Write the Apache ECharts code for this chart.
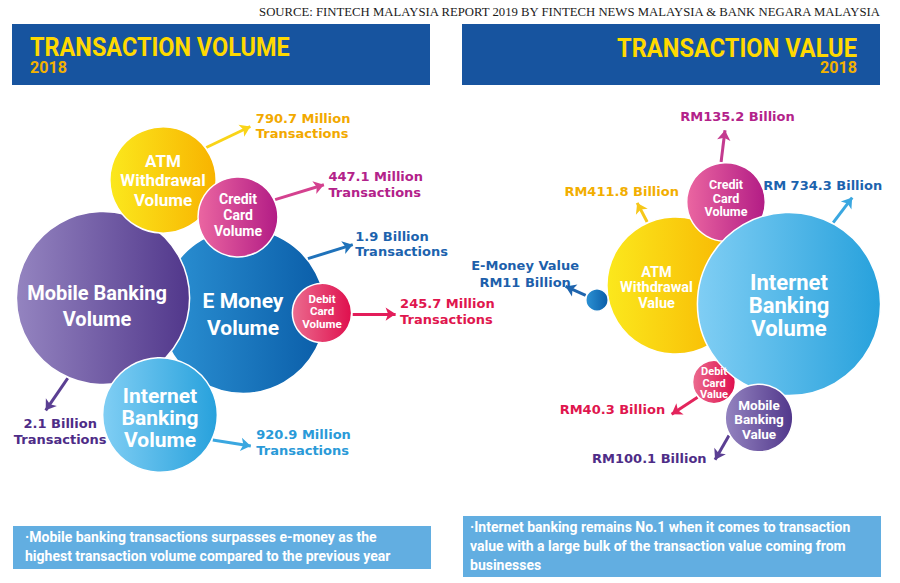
<!DOCTYPE html>
<html><head><meta charset="utf-8">
<script src="https://cdn.jsdelivr.net/npm/echarts@6/dist/echarts.min.js"></script>
<style>html,body{margin:0;padding:0;background:#fff}#c{width:900px;height:583px}</style>
</head><body><div id="c"></div>
<script>
// ---------------- DATA ----------------
// Transaction volume 2018 (million transactions), drawn bottom -> top
const volCategories = ['E Money Volume','Mobile Banking Volume','Internet Banking Volume','ATM Withdrawal Volume','Credit Card Volume','Debit Card Volume'];
const volBubbleText = ['E Money\nVolume','Mobile Banking\nVolume','Internet\nBanking\nVolume','ATM\nWithdrawal\nVolume','Credit\nCard\nVolume','Debit\nCard\nVolume'];
const volValues = [1900, 2100, 920.9, 790.7, 447.1, 245.7];
const volValueLabels = ['1.9 Billion\nTransactions','2.1 Billion\nTransactions','920.9 Million\nTransactions','790.7 Million\nTransactions','447.1 Million\nTransactions','245.7 Million\nTransactions'];

// Transaction value 2018 (RM billion), drawn bottom -> top
const valCategories = ['ATM Withdrawal Value','Credit Card Value','Debit Card Value','Internet Banking Value','Mobile Banking Value','E-Money Value'];
const valBubbleText = ['ATM\nWithdrawal\nValue','Credit\nCard\nVolume','Debit\nCard\nValue','Internet\nBanking\nVolume','Mobile\nBanking\nValue',''];
const valValues = [411.8, 135.2, 40.3, 734.3, 100.1, 11];
const valValueLabels = ['RM411.8 Billion','RM135.2 Billion','RM40.3 Billion','RM 734.3 Billion','RM100.1 Billion','E-Money Value\nRM11 Billion'];

const sourceText = 'SOURCE: FINTECH MALAYSIA REPORT 2019 BY FINTECH NEWS MALAYSIA & BANK NEGARA MALAYSIA';
const titles = ['TRANSACTION VOLUME', 'TRANSACTION VALUE'];
const yearText = '2018';
const notes = [
  ['\u00b7Mobile banking transactions surpasses e-money as the', 'highest transaction volume compared to the previous year'],
  ['\u00b7Internet banking remains No.1 when it comes to transaction', 'value with a large bulk of the transaction value coming from', 'businesses']
];

// ---------------- LAYOUT / STYLE ----------------
const volLayout = {
  centers: [[243,311],[103,298],[160,415],[163,180],[238,217],[322,313]],
  k: 1.89,
  grad: [['#2c92d4','#0a5da8'],['#9484c0','#51378b'],['#80cef4','#27a1dc'],['#fbe81d','#f8b300'],['#eb66a1','#b21c85'],['#eb6b8f','#df0f4d']],
  font: [21,20,21,17,14,11.5],
  lineH: [27,26,22,19.5,16,12.5],
  textOff: [[0,3],[-6,8],[0,3],[0,0],[0,-2],[0,-2]],
  arrows: [[-38.9,-17.3,47],[113.7,124.5,39],[25.3,9,38.5],[-36.9,-25.5,48.8],[-25,-17,51],[2,0,43]],
  arrowColor: ['#1f72ba','#5b3f93','#3aa7e0','#f9d418','#d4418f','#e31d5a'],
  labelColor: ['#1c63ae','#4e2c87','#2a9ad8','#f2a900','#b3228a','#e0164e'],
  labelPos: [[3,0,'left','middle'],[15,6,'center','top'],[6,-3,'left','middle'],[6,0,'left','middle'],[5,0,'left','middle'],[5,-2,'left','middle']],
  labelLineH: 15.5
};
const valLayout = {
  centers: [[675.5,285.5],[726,202],[714,382],[789,304],[759,418],[597,300]],
  k: 3.38,
  grad: [['#fbe81d','#f8b300'],['#eb66a1','#b21c85'],['#eb6b8f','#df0f4d'],['#80cef4','#27a1dc'],['#9484c0','#51378b'],['#2c92d4','#0a5da8']],
  font: [14.5,12.5,11,22,13.5,10],
  lineH: [15.5,13.5,11.5,23,14.5,11],
  textOff: [[-19,2],[0,-4],[0,1],[0,1],[0,1],[0,0]],
  arrows: [[-114,-117.8,21.5],[-97,-83,32],[137,146.8,31],[-61.5,-52.8,31.4],[149.6,120,27.8],[-158,-155.8,22]],
  arrowColor: ['#f6c719','#c43a8f','#e3245c','#3aa7e0','#5b3f93','#1e64ad'],
  labelColor: ['#f2ae00','#b3228a','#e0164e','#1c63ae','#4e2c87','#1d5fab'],
  labelPos: [[-15,-11,'center','middle'],[13,-13,'center','middle'],[-6,-4,'right','middle'],[-29,-12,'center','middle'],[-8,-1,'right','middle'],[-40,-11.5,'center','middle']],
  labelLineH: 17
};

const FONT = 'Roboto, "Open Sans", sans-serif';
const LABEL_FONT = '"DejaVu Sans", Roboto, sans-serif';
const rad = d => d * Math.PI / 180;

function buildPanel(cats, texts, values, labels, L) {
  const bubbles = [], lines = [], tags = [];
  values.forEach((v, i) => {
    const c = L.centers[i];
    const r = L.k * Math.sqrt(v);
    bubbles.push({
      name: cats[i],
      value: [c[0], c[1], v],
      symbolSize: 2 * r,
      itemStyle: {
        opacity: 1,
        color: new echarts.graphic.LinearGradient(0, 0, 1, 0, [
          {offset: 0, color: L.grad[i][0]}, {offset: 1, color: L.grad[i][1]}
        ]),
        borderColor: '#ffffff', borderWidth: 1.5
      },
      label: {
        show: texts[i] !== '', position: 'inside', formatter: texts[i],
        color: '#ffffff', fontFamily: FONT, fontWeight: 'bold',
        fontSize: L.font[i], lineHeight: L.lineH[i], offset: L.textOff[i]
      }
    });
    const a = L.arrows[i];
    const s = [c[0] + (r + 1) * Math.cos(rad(a[0])), c[1] + (r + 1) * Math.sin(rad(a[0]))];
    const e = [s[0] + a[2] * Math.cos(rad(a[1])), s[1] + a[2] * Math.sin(rad(a[1]))];
    lines.push({ coords: [s, e], lineStyle: { color: L.arrowColor[i] } });
    const p = L.labelPos[i];
    tags.push({
      name: labels[i], value: e,
      label: {
        show: true, formatter: labels[i], position: [p[0], p[1]],
        align: p[2], verticalAlign: p[3], color: L.labelColor[i],
        fontFamily: LABEL_FONT, fontWeight: 'bold', fontSize: 13, lineHeight: L.labelLineH
      }
    });
  });
  return { bubbles, lines, tags };
}

const vol = buildPanel(volCategories, volBubbleText, volValues, volValueLabels, volLayout);
const val = buildPanel(valCategories, valBubbleText, valValues, valValueLabels, valLayout);

function fitScale(text, font, target) {
  const ctx = document.createElement('canvas').getContext('2d');
  ctx.font = font;
  return target / ctx.measureText(text).width;
}

const titleFont = 'bold 25px Roboto';
const yearFont = 'bold 17px Roboto';
const srcFont = '13px "Liberation Serif"';
const noteFont = 'bold 14px Roboto';

function noteLines(lines, x, y0, lh, target) {
  return lines.map((t, i) => ({
    type: 'text', x: x, y: y0 + i * lh,
    scaleX: target ? Math.min(1, fitScale(t, noteFont, target[i])) : 1,
    style: { text: t, fill: '#ffffff', font: noteFont, textAlign: 'left', textVerticalAlign: 'middle', align: 'left', verticalAlign: 'middle' }
  }));
}

const graphic = [
  { type: 'text', x: 880, y: 12, scaleX: fitScale(sourceText, srcFont, 624),
    style: { text: sourceText, fill: '#1a1a1a', font: srcFont, textAlign: 'right', textVerticalAlign: 'middle', align: 'right', verticalAlign: 'middle' } },
  { type: 'rect', shape: { x: 12, y: 24, width: 418, height: 61 }, style: { fill: '#17549f' } },
  { type: 'rect', shape: { x: 462, y: 24, width: 418, height: 61 }, style: { fill: '#17549f' } },
  { type: 'text', x: 30, y: 48, scaleX: fitScale(titles[0], titleFont, 260),
    style: { text: titles[0], fill: '#ffd900', font: titleFont, textAlign: 'left', textVerticalAlign: 'middle', align: 'left', verticalAlign: 'middle' } },
  { type: 'text', x: 30, y: 67, scaleX: fitScale(yearText, yearFont, 37),
    style: { text: yearText, fill: '#f3b100', font: yearFont, textAlign: 'left', textVerticalAlign: 'middle', align: 'left', verticalAlign: 'middle' } },
  { type: 'text', x: 857, y: 48, scaleX: fitScale(titles[1], titleFont, 240),
    style: { text: titles[1], fill: '#ffd900', font: titleFont, textAlign: 'right', textVerticalAlign: 'middle', align: 'right', verticalAlign: 'middle' } },
  { type: 'text', x: 857, y: 67, scaleX: fitScale(yearText, yearFont, 37),
    style: { text: yearText, fill: '#f3b100', font: yearFont, textAlign: 'right', textVerticalAlign: 'middle', align: 'right', verticalAlign: 'middle' } },
  { type: 'rect', shape: { x: 13, y: 526, width: 418, height: 43 }, style: { fill: '#62aee1' } },
  { type: 'rect', shape: { x: 463, y: 516, width: 418, height: 61 }, style: { fill: '#62aee1' } }
].concat(noteLines(notes[0], 25, 537, 19, [378, 396]))
 .concat(noteLines(notes[1], 470, 527, 19, [405, 402, 76]));

const option = {
  backgroundColor: '#ffffff',
  animation: false,
  grid: { left: 0, right: 0, top: 0, bottom: 0 },
  xAxis: { type: 'value', min: 0, max: 900, show: false },
  yAxis: { type: 'value', min: 0, max: 583, inverse: true, show: false },
  graphic: graphic,
  series: [
    { name: 'Transaction Volume', type: 'scatter', data: vol.bubbles, z: 3, emphasis: { disabled: true } },
    { name: 'Transaction Value', type: 'scatter', data: val.bubbles, z: 3, emphasis: { disabled: true } },
    { type: 'lines', coordinateSystem: 'cartesian2d', z: 2, symbol: ['none', 'arrow'], symbolSize: 10,
      lineStyle: { width: 3, opacity: 1 }, data: vol.lines.concat(val.lines) },
    { name: 'Value labels', type: 'scatter', symbolSize: 1, z: 4, data: vol.tags.concat(val.tags),
      itemStyle: { color: 'rgba(0,0,0,0)', opacity: 1 }, emphasis: { disabled: true } }
  ]
};

const chart = echarts.init(document.getElementById('c'), null, { renderer: 'svg' });
chart.setOption(option);
</script>
</body></html>
